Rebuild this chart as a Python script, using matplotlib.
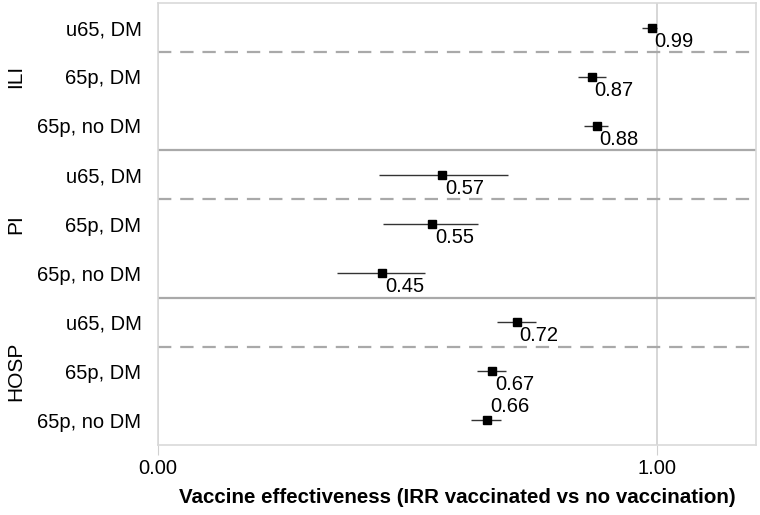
import matplotlib.pyplot as plt

plt.rcParams['font.family'] = ['Liberation Sans', 'DejaVu Sans']

groups = ["ILI", "PI", "HOSP"]
subgroups = ["u65, DM", "65p, DM", "65p, no DM"]
irr = [0.99, 0.87, 0.88, 0.57, 0.55, 0.45, 0.72, 0.67, 0.66]
ci_low = [0.971, 0.842, 0.855, 0.444, 0.452, 0.358, 0.680, 0.640, 0.628]
ci_high = [1.000, 0.899, 0.903, 0.703, 0.641, 0.536, 0.758, 0.698, 0.688]
xticks = [0.0, 1.0]
xticklabels = ["0.00", "1.00"]

fig = plt.figure(figsize=(7.6, 5.15), dpi=100)
ax = fig.add_axes([0.208, 0.136, 0.787, 0.858])

n = len(irr)
ys = list(range(n))
labels = subgroups * len(groups)

# confidence intervals + point estimates
ax.hlines(ys, ci_low, ci_high, color="#333333", lw=1.0, zorder=3)
ax.plot(irr, ys, "s", color="black", ms=6, zorder=4)

for i, v in enumerate(irr):
    if i == n - 1:
        ax.annotate(f"{v:.2f}", (v, i), xytext=(2, 3), textcoords="offset points",
                    ha="left", va="bottom", fontsize=14.5)
    else:
        ax.annotate(f"{v:.2f}", (v, i), xytext=(2, -3), textcoords="offset points",
                    ha="left", va="top", fontsize=14.5)

# separators between rows
for k in range(1, n):
    y = k - 0.5
    if k % 3 == 0:
        ax.axhline(y, color="#a9a9a9", lw=1.6, zorder=1)
    elif k % 3 == 1:
        ax.axhline(y, color="#a9a9a9", lw=1.6, ls=(0, (6, 4)), zorder=1)

for x in xticks:
    ax.axvline(x, color="#d0d0d0", lw=1.2, zorder=0)

ax.set_xlim(0, 1.2)
ax.set_ylim(n - 0.5, -0.5)
ax.set_yticks(ys)
ax.set_yticklabels(labels, fontsize=14.5)
ax.tick_params(axis="y", length=0, pad=12)
ax.set_xticks(xticks)
ax.set_xticklabels(xticklabels, fontsize=14.5)
ax.tick_params(axis="x", length=7, color="#d0d0d0", pad=3)

for s in ax.spines.values():
    s.set_color("#d9d9d9")
    s.set_linewidth(1.2)

ax.set_xlabel("Vaccine effectiveness (IRR vaccinated vs no vaccination)",
              fontsize=14.8, fontweight="bold", labelpad=7)

# group labels
for g, name in enumerate(groups):
    ax.text(-0.238, g * 3 + 1, name, transform=ax.get_yaxis_transform(),
            rotation=90, ha="center", va="center", fontsize=15)

fig.savefig("out.png", dpi=100)
